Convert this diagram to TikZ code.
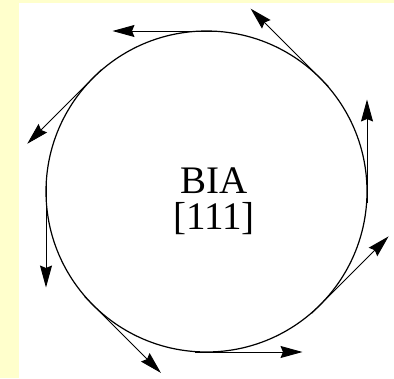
\documentclass[tikz,border=0pt]{standalone}
\usepackage{fontspec}
\setmainfont{Liberation Serif}
\usetikzlibrary{arrows.meta,calc}
\definecolor{bgyellow}{RGB}{255,255,204}
\begin{document}
\begin{tikzpicture}[x=1pt,y=1pt,
  ring/.style={circle,draw=black,line width=1.2pt,minimum size=321pt,inner sep=0pt,outer sep=0pt},
  tarrow/.style={draw=black,line width=0.9pt,-{Stealth[length=22pt,width=12pt,inset=2.5pt]}},
  lbl/.style={font=\fontsize{39}{39}\selectfont,inner sep=0pt}]
\fill[bgyellow] (0,0) rectangle (394,378);
\fill[white] (19,0) rectangle (394,375);
\useasboundingbox (0,0) rectangle (394,378);
\node[ring] (ring) at (206.5,186.5) {};
\node[lbl,anchor=base] (bia) at (214,184) {BIA};
\node[lbl,anchor=base] (miller) at (214,148) {[111]};
\foreach \ang/\lng [count=\i] in {0/92,45/98,90/94,135/93,180/96,225/96,270/96,315/97} {
  \coordinate (s\i) at ($(ring.\ang)+({12*sin(\ang)},{-12*cos(\ang)})$);
  \coordinate (e\i) at ($(ring.\ang)+({-\lng*sin(\ang)},{\lng*cos(\ang)})$);
  \draw[tarrow] (s\i) -- (e\i);
}
\end{tikzpicture}
\end{document}
